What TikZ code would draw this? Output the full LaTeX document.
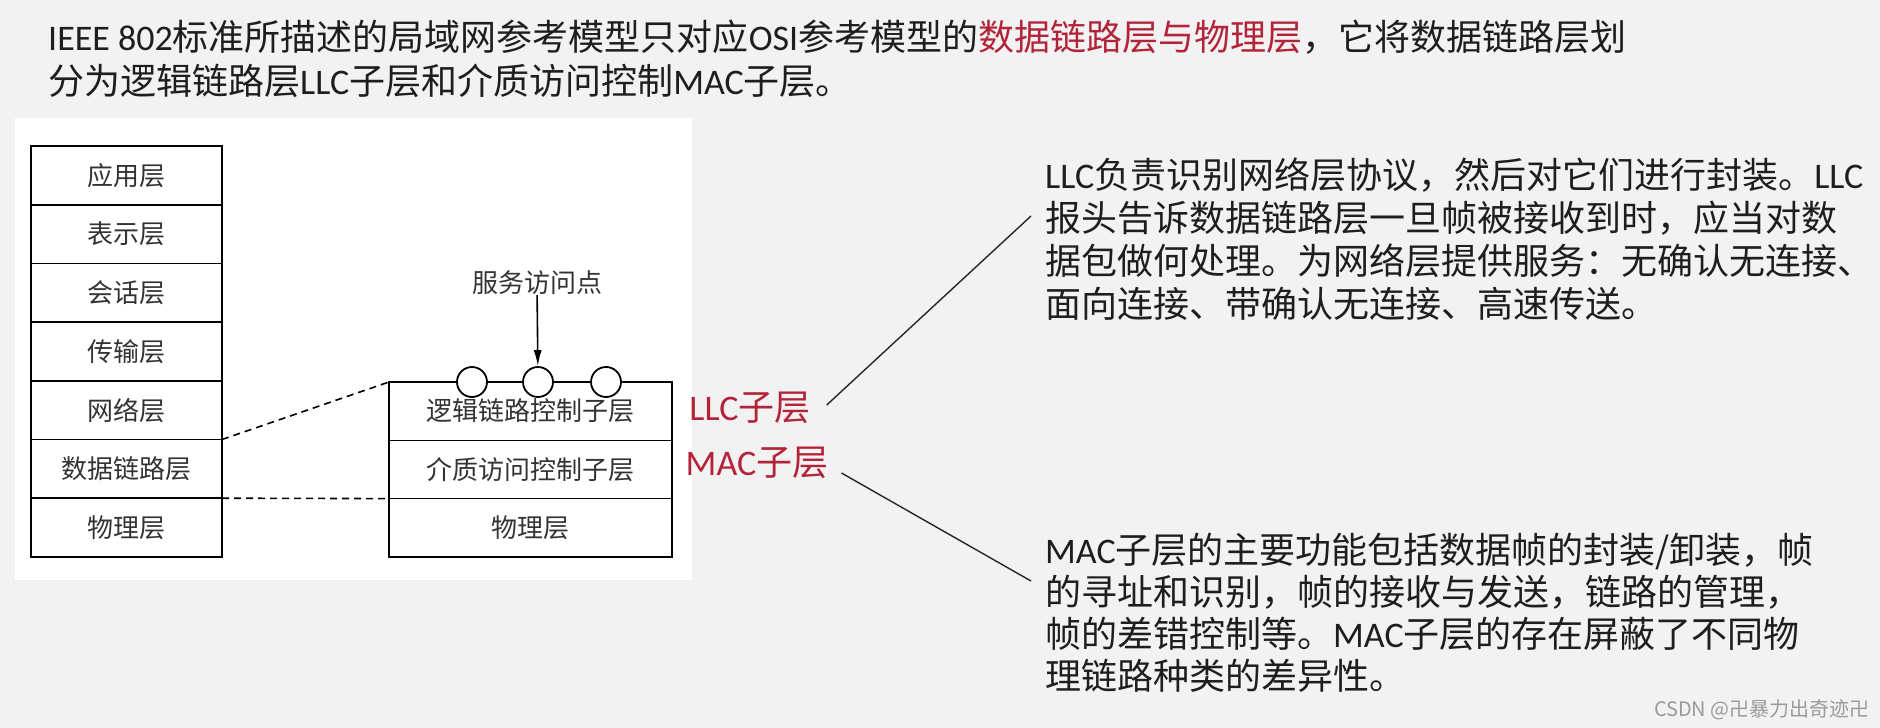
\documentclass[tikz,border=0pt]{standalone}
\usepackage{fontspec}
\setmainfont{Noto Sans CJK SC}
\newfontfamily\lat{Carlito}
\usetikzlibrary{arrows.meta,positioning}
\definecolor{pagegray}{HTML}{F2F2F2}
\definecolor{titlered}{HTML}{B3243A}
\definecolor{marktext}{HTML}{9A9A9A}
\definecolor{bodytext}{HTML}{1E1E1E}
\definecolor{figtext}{HTML}{333333}

\begin{document}
\begin{tikzpicture}[x=1pt,y=-1pt,
  node distance=0pt,
  layer/.style={draw,line width=1.6pt,outer sep=0pt,inner sep=0pt,
                minimum width=191pt,minimum height=58.7pt,
                font=\fontsize{26}{30}\selectfont,text=figtext},
  sublayer/.style={layer,minimum width=283pt,minimum height=58.3pt},
  sap/.style={circle,draw,line width=1.8pt,fill=white,
              minimum size=30pt,inner sep=0pt},
  desc/.style={align=left,inner sep=0pt,anchor=north west,text=bodytext,
               font=\fontsize{36}{43}\selectfont},
  tag/.style={inner sep=0pt,text=titlered,font=\fontsize{36}{43}\selectfont},
  link/.style={line width=1.4pt,draw=black!85},
  zoomline/.style={line width=1.6pt,dash pattern=on 7pt off 5pt},
  arrow/.style={-{Latex[length=16pt,width=8pt]},line width=1.6pt}]
\useasboundingbox (0,0) rectangle (1880,728);
\fill[pagegray] (0,0) rectangle (1880,728);
\fill[white] (15,118) rectangle (692,580);
% heading
\node[desc,font=\fontsize{36}{44}\selectfont] (title) at (48,19.5)
  {{\lat IEEE 802}标准所描述的局域网参考模型只对应{\lat OSI}参考模型的\textcolor{titlered}{数据链路层与物理层}，它将数据链路层划\\
   分为逻辑链路层{\lat LLC}子层和介质访问控制{\lat MAC}子层。};
% OSI reference model
\node[layer] (osi1) at (126.5,175.35) {应用层};
\node[layer,below=of osi1] (osi2) {表示层};
\node[layer,below=of osi2] (osi3) {会话层};
\node[layer,below=of osi3] (osi4) {传输层};
\node[layer,below=of osi4] (osi5) {网络层};
\node[layer,below=of osi5] (osi6) {数据链路层};
\node[layer,below=of osi6] (osi7) {物理层};
\draw[line width=2.6pt] (osi1.north west) rectangle (osi7.south east);
% IEEE 802 model
\node[sublayer] (llc) at (530.5,411.15) {逻辑链路控制子层};
\node[sublayer,below=of llc] (mac) {介质访问控制子层};
\node[sublayer,below=of mac] (phy) {物理层};
\draw[line width=2.6pt] (llc.north west) rectangle (phy.south east);
\foreach \n/\x in {sapa/472,sapb/538,sapc/606}
  \node[sap] (\n) at (\x,382) {};
\node[inner sep=0pt,font=\fontsize{26}{30}\selectfont,text=figtext] (saplabel) at (537,283) {服务访问点};
\draw[arrow] (saplabel) -- (sapb);
\draw[zoomline] (osi6.north east) -- (llc.north west);
\draw[zoomline] (osi7.north east) -- (phy.north west);
% sublayer notes
\node[tag] (llctag) at (750,408) {{\lat LLC}子层};
\node[tag] (mactag) at (757,463) {{\lat MAC}子层};
\node[desc] (llcdesc) at (1045,157.5)
  {{\lat LLC}负责识别网络层协议，然后对它们进行封装。{\lat LLC}\\
   报头告诉数据链路层一旦帧被接收到时，应当对数\\
   据包做何处理。为网络层提供服务：无确认无连接、\\
   面向连接、带确认无连接、高速传送。};
\node[desc,font=\fontsize{36}{42}\selectfont] (macdesc) at (1045,532.5)
  {{\lat MAC}子层的主要功能包括数据帧的封装/卸装，帧\\
   的寻址和识别，帧的接收与发送，链路的管理，\\
   帧的差错控制等。{\lat MAC}子层的存在屏蔽了不同物\\
   理链路种类的差异性。};
\coordinate (llcend) at (1031,216);
\coordinate (macend) at (1031,581);
\draw[link] ([xshift=16pt,yshift=3pt]llctag.east) -- (llcend);
\draw[link] ([xshift=13pt,yshift=-10pt]mactag.east) -- (macend);
\node[anchor=east,inner sep=0pt,font=\fontsize{20}{24}\selectfont,text=marktext] (mark) at (1870,710) {CSDN @卍暴力出奇迹卍};
\end{tikzpicture}
\end{document}
